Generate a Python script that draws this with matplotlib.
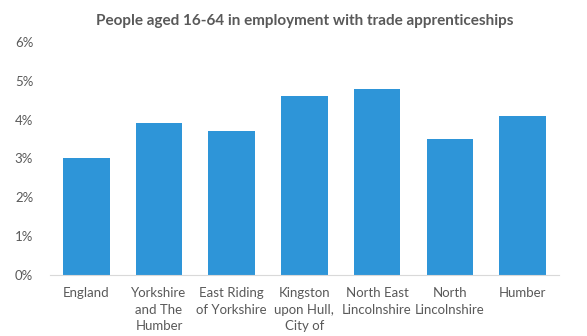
import matplotlib.pyplot as plt
from matplotlib.ticker import FuncFormatter

areas = ['England', 'Yorkshire\nand The\nHumber', 'East Riding\nof Yorkshire',
         'Kingston\nupon Hull,\nCity of', 'North East\nLincolnshire',
         'North\nLincolnshire', 'Humber']
share = [3.0, 3.9, 3.7, 4.6, 4.8, 3.5, 4.1]

plt.rcParams['font.family'] = ['Lato', 'DejaVu Sans']

fig = plt.figure(figsize=(5.87, 3.36), dpi=100)
ax = fig.add_axes([0.085, 0.182, 0.867, 0.693])

ax.bar(range(len(areas)), share, width=0.64, color='#2E95D8')

ax.set_xlim(-0.5, len(areas) - 0.5)
ax.set_ylim(0, 6)
ax.set_yticks(range(0, 7))
ax.yaxis.set_major_formatter(FuncFormatter(lambda v, p: f'{v:.0f}%'))
ax.set_xticks(range(len(areas)))
ax.set_xticklabels(areas, fontsize=9.5, color='#595959', linespacing=1.45)
ax.tick_params(axis='y', labelsize=9.5, labelcolor='#595959', length=0, pad=12)
ax.tick_params(axis='x', length=0, pad=9)

for side in ['top', 'right', 'left']:
    ax.spines[side].set_visible(False)
ax.spines['bottom'].set_color('#d9d9d9')

fig.text(0.519, 0.938, 'People aged 16-64 in employment with trade apprenticeships',
         ha='center', va='center', fontsize=11, fontweight='bold', color='#595959')

fig.savefig('out.png', dpi=100)
